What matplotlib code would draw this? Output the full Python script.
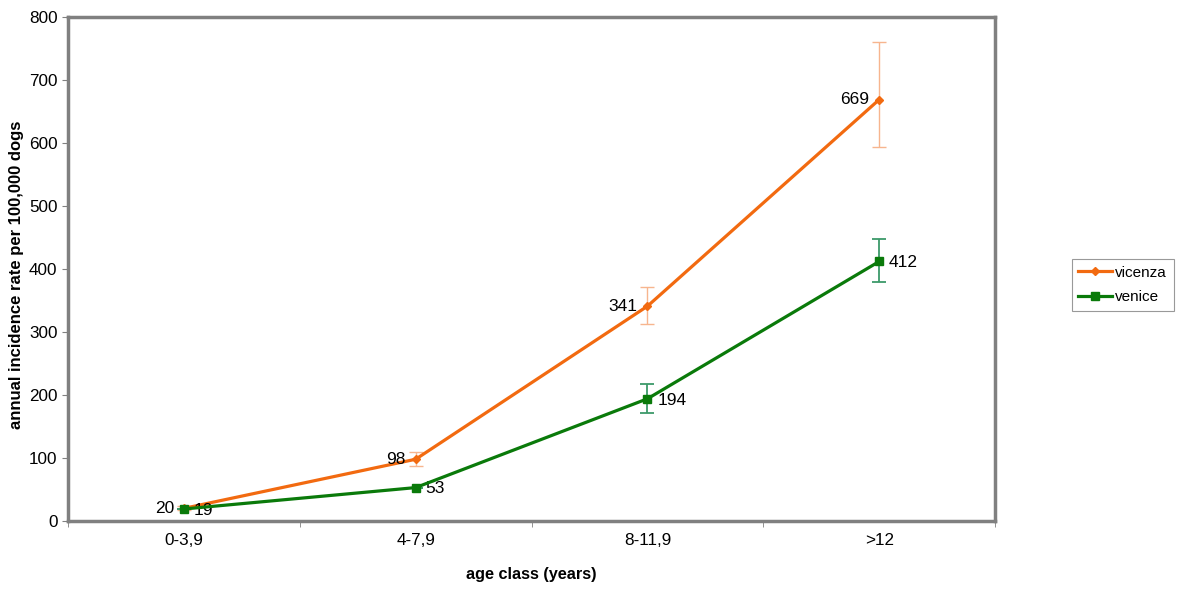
import matplotlib
matplotlib.use("Agg")
import matplotlib.pyplot as plt
import numpy as np

plt.rcParams['font.family'] = ['Liberation Sans', 'DejaVu Sans']

categories = ["0-3,9", "4-7,9", "8-11,9", ">12"]
vicenza = [20, 98, 341, 669]
vicenza_lo = [17, 88, 313, 593]
vicenza_hi = [23, 109, 372, 760]
venice = [19, 53, 194, 412]
venice_lo = [19, 53, 171, 380]
venice_hi = [19, 53, 218, 448]

fig = plt.figure(figsize=(12, 5.9), dpi=100)
ax = fig.add_axes([0.0567, 0.117, 0.7725, 0.854])

x = np.arange(len(categories))
c_vic = '#F26A10'
c_ven = '#0A7A0A'

ax.errorbar(x, vicenza, yerr=[np.array(vicenza) - np.array(vicenza_lo), np.array(vicenza_hi) - np.array(vicenza)],
            fmt='none', ecolor='#F7B58E', elinewidth=1, capsize=5, capthick=1, zorder=2)
ax.errorbar(x, venice, yerr=[np.array(venice) - np.array(venice_lo), np.array(venice_hi) - np.array(venice)],
            fmt='none', ecolor='#3D9A6A', elinewidth=1.3, capsize=5, capthick=1.3, zorder=2)
ax.plot(x, vicenza, color=c_vic, lw=2.3, marker='D', ms=4.5, label='vicenza', zorder=3)
ax.plot(x, venice, color=c_ven, lw=2.3, marker='s', ms=6, label='venice', zorder=4)

for xi, v in zip(x, vicenza):
    ax.annotate(str(v), (xi, v), xytext=(-7, 0), textcoords='offset points',
                ha='right', va='center', fontsize=12.5)
for xi, v in zip(x, venice):
    ax.annotate(str(v), (xi, v), xytext=(7, -1), textcoords='offset points',
                ha='left', va='center', fontsize=12.5)

ax.set_xlim(-0.5, len(categories) - 0.5)
ax.set_ylim(0, 800)
ax.set_yticks(np.arange(0, 801, 100))
ax.set_xticks(x)
ax.set_xticklabels(categories, fontsize=12.3)
ax.set_xticks(np.arange(-0.5, len(categories), 1), minor=True)
ax.tick_params(axis='x', which='major', length=0, pad=9)
ax.tick_params(axis='x', which='minor', length=4, color='#808080', direction='out')
ax.tick_params(axis='y', labelsize=12.3, length=4, color='#808080')

for s in ax.spines.values():
    s.set_color('#808080')
    s.set_linewidth(2.5)

ax.set_xlabel('age class (years)', fontsize=11.7, fontweight='bold', labelpad=13)
ax.set_ylabel('annual incidence rate per 100,000 dogs', fontsize=12, fontweight='bold')
ax.yaxis.set_label_coords(-0.0475, 0.488)

leg = fig.legend(loc='center left', bbox_to_anchor=(0.893, 0.517), fontsize=11,
                 frameon=True, fancybox=False, edgecolor='#808080', borderpad=0.45,
                 handlelength=2.2, labelspacing=0.7, handletextpad=0.2, borderaxespad=0)
leg.get_frame().set_linewidth(0.8)

fig.savefig('out.png', dpi=100)
